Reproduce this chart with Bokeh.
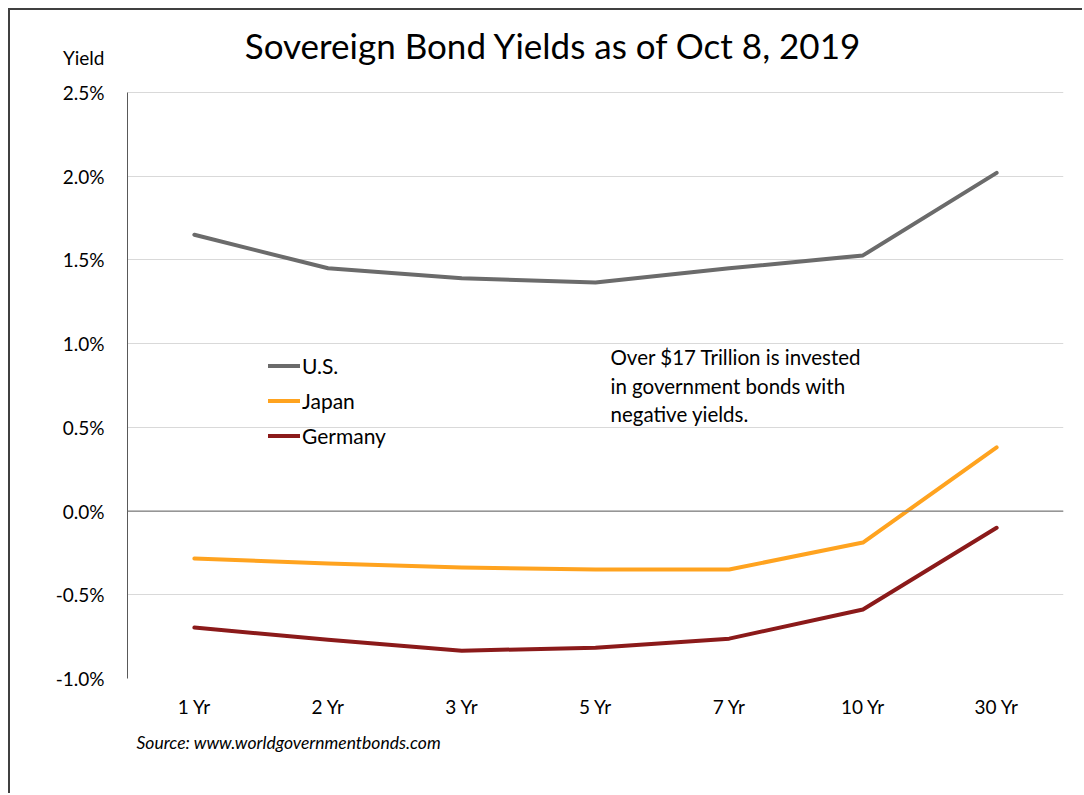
from bokeh.plotting import figure
from bokeh.models import (FactorRange, Range1d, FixedTicker, PrintfTickFormatter,
                          Span, Label, Legend, LegendItem, Title)
from bokeh.embed import file_html
from bokeh.resources import INLINE

categories = ["1 Yr", "2 Yr", "3 Yr", "5 Yr", "7 Yr", "10 Yr", "30 Yr"]
us = [1.65, 1.45, 1.39, 1.365, 1.45, 1.527, 2.02]
japan = [-0.283, -0.313, -0.337, -0.349, -0.349, -0.188, 0.38]
germany = [-0.696, -0.768, -0.834, -0.816, -0.762, -0.588, -0.10]
y_ticks = [-1.0, -0.5, 0.0, 0.5, 1.0, 1.5, 2.0, 2.5]

FONT = "Lato"

PY = 586 / 3.5    # px per percent point
PX = 936 / 7      # px per category
Y_TOP = max(y_ticks) + 82 / PY      # frame reaches up to the top of the canvas
YIELD_POS = max(y_ticks) + 35 / PY  # where the "Yield" caption sits on the axis

p = figure(x_range=FactorRange(*categories, range_padding=0),
           y_range=Range1d(min(y_ticks), Y_TOP),
           width=1074, height=785, output_backend="svg", toolbar_location=None,
           min_border_left=117, min_border_right=21, min_border_top=0,
           min_border_bottom=117)
p.styles = {"border-left": "2px solid #404040", "border-top": "2px solid #404040",
            "margin-left": "8px", "margin-top": "8px"}
p.outline_line_color = None
p.background_fill_color = "white"
p.border_fill_color = "white"

p.xgrid.grid_line_color = None
p.ygrid.ticker = FixedTicker(ticks=y_ticks)
p.ygrid.grid_line_color = "#d9d9d9"
p.ygrid.grid_line_width = 1

p.yaxis.ticker = FixedTicker(ticks=y_ticks + [YIELD_POS])
p.yaxis.formatter = PrintfTickFormatter(format="%.1f%%")
p.yaxis.major_label_overrides = {YIELD_POS: "Yield"}
p.yaxis.bounds = (min(y_ticks), max(y_ticks))
p.yaxis.axis_line_color = "#595959"
p.yaxis.major_tick_line_color = None
p.yaxis.minor_tick_line_color = None
p.yaxis.major_label_text_font = FONT
p.yaxis.major_label_text_font_size = "19px"
p.yaxis.major_label_text_color = "#000000"
p.yaxis.major_label_standoff = 17

p.xaxis.axis_line_color = None
p.xaxis.major_tick_line_color = None
p.xaxis.minor_tick_line_color = None
p.xaxis.major_label_text_font = FONT
p.xaxis.major_label_text_font_size = "19px"
p.xaxis.major_label_text_color = "#000000"
p.xaxis.major_label_standoff = 10

p.add_layout(Span(location=0, dimension="width", line_color="#7f7f7f", line_width=1.3))

r_us = p.line(categories, us, line_color="#6b6b6b", line_width=4, line_cap="round", line_join="round")
r_jp = p.line(categories, japan, line_color="#ffa31f", line_width=4, line_cap="round", line_join="round")
r_de = p.line(categories, germany, line_color="#8b1a1a", line_width=4, line_cap="round", line_join="round")

legend = Legend(items=[LegendItem(label="U.S.", renderers=[r_us]),
                       LegendItem(label="Japan", renderers=[r_jp]),
                       LegendItem(label="Germany", renderers=[r_de])],
                location=(141, 230), orientation="vertical",
                glyph_width=32, glyph_height=21, label_height=21, spacing=10,
                label_standoff=2, padding=0, margin=0,
                border_line_alpha=0, background_fill_alpha=0,
                label_text_font=FONT, label_text_font_size="21px",
                label_text_color="#000000")
p.add_layout(legend, "center")


def xd(px):
    return (px - 127) / PX


def yd(py):
    return (510.6 - py) / PY


p.add_layout(Label(x=xd(553), y=yd(45), text="Sovereign Bond Yields as of Oct 8, 2019",
                   text_font=FONT, text_font_size="35px", text_align="center",
                   text_baseline="middle", text_color="#000000"))
for i, line in enumerate(["Over $17 Trillion is invested",
                          "in government bonds with",
                          "negative yields."]):
    p.add_layout(Label(x=xd(610), y=yd(357 + 28.5 * i), text=line, text_font=FONT,
                       text_font_size="20.5px", text_align="left", text_baseline="middle",
                       text_color="#000000"))

p.add_layout(Title(text="Source:  www.worldgovernmentbonds.com", align="left", offset=9,
                   text_font=FONT, text_font_size="17.5px", text_font_style="italic",
                   text_color="#000000", standoff=18), "below")

open("out.html", "w").write(file_html(p, INLINE))
